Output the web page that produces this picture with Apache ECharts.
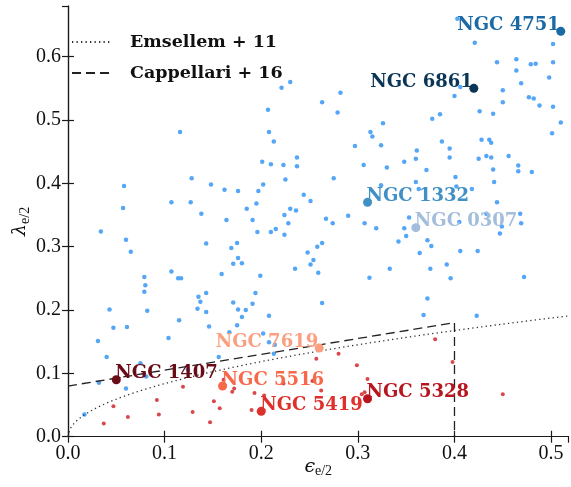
<!DOCTYPE html>
<html>
<head>
<meta charset="utf-8">
<script src="https://cdn.jsdelivr.net/npm/echarts@6/dist/echarts.min.js"></script>
<style>
  html, body { margin: 0; padding: 0; background: #ffffff; }
  #chart { width: 571px; height: 487px; }
</style>
</head>
<body>
<div id="chart"></div>
<script>
// Fast rotators: [ellipticity, lambda] within half the effective radius
const fastRotators = [
  [0.116,0.481],[0.058,0.396],[0.128,0.408],[0.148,0.398],[0.162,0.390],[0.057,0.361],[0.107,0.370],[0.127,0.370],[0.138,0.352],[0.164,0.342],
  [0.221,0.551],[0.230,0.560],[0.282,0.543],[0.263,0.528],[0.207,0.516],[0.279,0.512],[0.208,0.481],[0.213,0.466],[0.326,0.495],[0.313,0.481],
  [0.315,0.474],[0.297,0.459],[0.324,0.460],[0.201,0.434],[0.210,0.430],[0.223,0.429],[0.237,0.441],[0.237,0.427],[0.306,0.429],[0.330,0.425],
  [0.225,0.406],[0.275,0.408],[0.176,0.388],[0.197,0.388],[0.202,0.398],[0.324,0.397],[0.244,0.382],[0.251,0.372],[0.185,0.360],[0.195,0.368],
  [0.230,0.360],[0.236,0.357],[0.224,0.350],[0.267,0.344],[0.290,0.349],[0.191,0.342],
  [0.403,0.660],[0.421,0.622],[0.502,0.620],[0.444,0.591],[0.464,0.596],[0.479,0.588],[0.484,0.589],[0.502,0.591],[0.464,0.578],[0.498,0.567],
  [0.469,0.558],[0.406,0.552],[0.400,0.538],[0.450,0.547],[0.450,0.528],[0.477,0.536],[0.482,0.534],[0.488,0.523],[0.502,0.521],[0.426,0.514],
  [0.440,0.510],[0.377,0.502],[0.385,0.509],[0.510,0.496],[0.501,0.479],[0.387,0.466],[0.428,0.469],[0.436,0.469],[0.438,0.464],[0.395,0.455],
  [0.395,0.441],[0.361,0.452],[0.360,0.439],[0.348,0.434],[0.425,0.439],[0.433,0.443],[0.438,0.441],[0.456,0.443],[0.371,0.421],[0.440,0.422],
  [0.466,0.428],[0.466,0.419],[0.480,0.418],[0.401,0.410],[0.360,0.402],[0.441,0.402],[0.402,0.395],[0.418,0.391],[0.363,0.391],[0.444,0.370],
  [0.353,0.346],[0.433,0.352],[0.468,0.352],
  [0.034,0.324],[0.060,0.311],[0.065,0.292],[0.143,0.305],[0.169,0.298],[0.079,0.252],[0.080,0.239],[0.079,0.229],[0.107,0.261],[0.114,0.250],
  [0.117,0.250],[0.159,0.257],[0.135,0.221],[0.137,0.213],[0.143,0.227],[0.134,0.202],[0.143,0.197],[0.043,0.201],[0.082,0.199],[0.115,0.184],
  [0.047,0.172],[0.061,0.173],[0.146,0.174],[0.104,0.156],[0.167,0.165],[0.031,0.151],[0.040,0.126],[0.156,0.126],[0.075,0.116],[0.124,0.106],
  [0.081,0.095],[0.032,0.085],[0.060,0.076],[0.017,0.035],[0.171,0.273],[0.171,0.212],
  [0.228,0.337],[0.274,0.337],[0.307,0.337],[0.196,0.323],[0.210,0.323],[0.215,0.328],[0.224,0.319],[0.319,0.329],[0.175,0.306],[0.342,0.308],
  [0.176,0.282],[0.180,0.274],[0.248,0.291],[0.258,0.300],[0.263,0.306],[0.254,0.279],[0.251,0.272],[0.259,0.259],[0.235,0.265],[0.199,0.254],
  [0.312,0.251],[0.333,0.265],[0.194,0.227],[0.191,0.210],[0.176,0.201],[0.184,0.200],[0.180,0.189],[0.175,0.176],[0.208,0.191],[0.263,0.211],
  [0.202,0.163],[0.208,0.149],[0.214,0.145],[0.213,0.131],
  [0.348,0.329],[0.350,0.317],[0.405,0.339],[0.447,0.321],[0.449,0.332],[0.469,0.337],[0.372,0.310],[0.376,0.301],[0.364,0.290],[0.406,0.293],
  [0.424,0.293],[0.392,0.272],[0.375,0.265],[0.396,0.250],[0.472,0.252],[0.372,0.218],[0.368,0.192],[0.423,0.191]
];

// Slow rotators: [ellipticity, lambda]
const slowRotators = [
  [0.119,0.079],[0.092,0.058],[0.047,0.048],[0.151,0.056],[0.157,0.045],[0.129,0.039],[0.094,0.035],[0.062,0.031],[0.037,0.021],[0.147,0.023],
  [0.161,0.090],[0.170,0.071],[0.172,0.076],
  [0.257,0.123],[0.280,0.131],[0.299,0.113],[0.223,0.084],[0.253,0.088],[0.262,0.073],[0.193,0.069],[0.203,0.065],[0.190,0.042],[0.310,0.091],
  [0.307,0.070],[0.304,0.067],
  [0.380,0.154],[0.398,0.118],[0.450,0.067]
];

// Highlighted galaxies
const galaxyNames = ['NGC 4751', 'NGC 6861', 'NGC 1332', 'NGC 0307', 'NGC 7619', 'NGC 1407', 'NGC 5516', 'NGC 5419', 'NGC 5328'];
const galaxyEps   = [0.51, 0.42, 0.31, 0.36, 0.26, 0.05, 0.16, 0.20, 0.31];
const galaxyLam   = [0.64, 0.55, 0.37, 0.33, 0.14, 0.09, 0.08, 0.04, 0.06];
const galaxyColors = ['#1b6aa5', '#0a3556', '#4190c5', '#a3bedc', '#fc9f81', '#6a0b18', '#f8694a', '#df2f2a', '#b7161e'];
// which side of the marker each name is written on
const galaxyLabelSide = ['left', 'left', 'right', 'right', 'left', 'right', 'right', 'right', 'right'];

// Separation criteria between fast and slow rotators
const emsellemCoeff = 0.265;          // lambda = k * sqrt(eps)
const cappellariIntercept = 0.08;     // lambda = a + eps / 4, eps < 0.4
const cappellariSlope = 0.25;
const cappellariEpsMax = 0.4;

const xTicks = ['0.0', '0.1', '0.2', '0.3', '0.4', '0.5'];
const yTicks = ['0.0', '0.1', '0.2', '0.3', '0.4', '0.5', '0.6'];

const X_MAX = 0.518, Y_MAX = 0.680;

const emsellemLine = [];
for (let e = 0; e <= X_MAX + 1e-9; e += 0.002) {
  emsellemLine.push([e, emsellemCoeff * Math.sqrt(e)]);
}
const cappellariLine = [
  [0, cappellariIntercept],
  [cappellariEpsMax, cappellariIntercept + cappellariSlope * cappellariEpsMax],
  [cappellariEpsMax, 0]
];

const SERIF = "'Liberation Serif', 'DejaVu Serif', serif";
const SERIF_B = "'DejaVu Serif', serif";
const AXIS_COLOR = '#1a1a1a';
const NAMED_SIZE = 9;

const namedData = galaxyNames.map((n, i) => {
  const left = galaxyLabelSide[i] === 'left';
  return {
    name: n,
    value: [galaxyEps[i], galaxyLam[i]],
    itemStyle: { color: galaxyColors[i], opacity: 1 },
    label: {
      show: true,
      formatter: n,
      color: galaxyColors[i],
      position: [NAMED_SIZE / 2, NAMED_SIZE / 2],
      align: left ? 'right' : 'left',
      verticalAlign: 'bottom',
      offset: [-1, 3],
      fontFamily: SERIF_B,
      fontWeight: 'bold',
      fontSize: 18
    }
  };
});

function tickFmt(labels) {
  return v => {
    const s = v.toFixed(1);
    return labels.indexOf(s) >= 0 && Math.abs(v - parseFloat(s)) < 1e-6 ? s : '';
  };
}

const chart = echarts.init(document.getElementById('chart'), null, { renderer: 'canvas' });
chart.setOption({
  animation: false,
  backgroundColor: '#ffffff',
  grid: { left: 68, top: 6, width: 500.5, height: 430.7, show: false, containLabel: false, outerBoundsMode: 'none' },
  legend: {
    left: 66, top: 28, orient: 'vertical',
    itemWidth: 40, itemHeight: 14, itemGap: 13,
    itemStyle: { opacity: 0 },
    data: ['Emsellem + 11', 'Cappellari + 16'],
    textStyle: { fontFamily: SERIF_B, fontWeight: 'bold', fontSize: 17.5, color: '#111', padding: [0, 0, 0, 13] }
  },
  xAxis: [{
    type: 'value', min: 0, max: X_MAX, interval: 0.1, position: 'bottom',
    name: '{e|ϵ}{s|e/2}', nameLocation: 'middle', nameGap: 19, nameMoveOverlap: false,
    nameTextStyle: { rich: {
      e: { fontFamily: SERIF_B, fontStyle: 'italic', fontSize: 19, color: '#111' },
      s: { fontFamily: SERIF, fontSize: 14, color: '#111', padding: [9, 0, 0, 0] }
    } },
    axisLine: { show: true, lineStyle: { color: AXIS_COLOR, width: 1.2 } },
    axisTick: { show: true, inside: true, length: 6, lineStyle: { color: AXIS_COLOR, width: 1.2 } },
    axisLabel: { margin: 7, fontFamily: SERIF, fontSize: 20, color: '#111', showMaxLabel: false, formatter: tickFmt(xTicks) },
    splitLine: { show: false }
  }, {
    type: 'value', min: 0, max: X_MAX, interval: 0.1, position: 'top',
    axisLine: { show: true, lineStyle: { color: AXIS_COLOR, width: 1.2 } },
    axisTick: { show: true, inside: true, length: 6, lineStyle: { color: AXIS_COLOR, width: 1.2 } },
    axisLabel: { show: false }, splitLine: { show: false }
  }],
  yAxis: [{
    type: 'value', min: 0, max: Y_MAX, interval: 0.1, position: 'left',
    name: '{l|λ}{s|e/2}', nameLocation: 'middle', nameGap: 36, nameRotate: 90, nameMoveOverlap: false,
    nameTextStyle: { rich: {
      l: { fontFamily: SERIF_B, fontStyle: 'italic', fontSize: 19, color: '#111' },
      s: { fontFamily: SERIF, fontSize: 14, color: '#111', padding: [9, 0, 0, 0] }
    } },
    axisLine: { show: true, lineStyle: { color: AXIS_COLOR, width: 1.2 } },
    axisTick: { show: true, inside: true, length: 6, lineStyle: { color: AXIS_COLOR, width: 1.2 } },
    axisLabel: { margin: 7, fontFamily: SERIF, fontSize: 20, color: '#111', showMaxLabel: false, formatter: tickFmt(yTicks) },
    splitLine: { show: false }
  }, {
    type: 'value', min: 0, max: Y_MAX, interval: 0.1, position: 'right',
    axisLine: { show: true, lineStyle: { color: AXIS_COLOR, width: 1.2 } },
    axisTick: { show: true, inside: true, length: 6, lineStyle: { color: AXIS_COLOR, width: 1.2 } },
    axisLabel: { show: false }, splitLine: { show: false }
  }],
  series: [
    {
      name: 'fast', type: 'scatter', data: fastRotators, symbolSize: 4.5,
      itemStyle: { color: '#55a6f6', opacity: 1 }, z: 2, silent: true
    },
    {
      name: 'slow', type: 'scatter', data: slowRotators, symbolSize: 4,
      itemStyle: { color: '#d8474a', opacity: 1 }, z: 2, silent: true
    },
    {
      name: 'Emsellem + 11', type: 'line', data: emsellemLine, showSymbol: false, symbol: 'none',
      lineStyle: { color: '#333', width: 1.3, type: [1.3, 3.2] }, z: 3, silent: true
    },
    {
      name: 'Cappellari + 16', type: 'line', data: cappellariLine, showSymbol: false, symbol: 'none',
      lineStyle: { color: '#222', width: 1.3, type: [9, 5] }, z: 3, silent: true
    },
    {
      name: 'named', type: 'scatter', data: namedData, symbolSize: NAMED_SIZE, z: 5, silent: true
    }
  ]
});
</script>
</body>
</html>
